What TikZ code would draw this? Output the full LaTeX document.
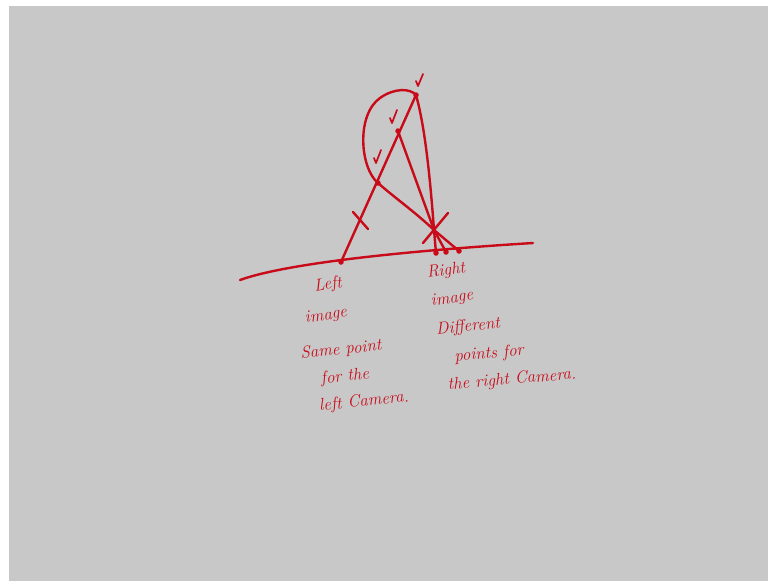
\documentclass[tikz,border=0pt]{standalone}
\definecolor{ink}{RGB}{200,10,25}
\definecolor{board}{RGB}{200,200,200}
\tikzset{
  pen/.style={draw=ink, line width=2.4pt, line cap=round, line join=round},
  thinpen/.style={draw=ink, line width=1.7pt, line cap=round, line join=round},
  dotpt/.style={circle, fill=ink, inner sep=0pt, minimum size=5.5pt},
  hand/.style={text=ink, font=\itshape\fontsize{17}{19}\selectfont, inner sep=0pt, align=left}
}
\begin{document}
\begin{tikzpicture}[x=1pt,y=-1pt]
\useasboundingbox (0,0) rectangle (768,581);
\fill[white] (0,0) rectangle (768,581);
\fill[board] (9,6) rectangle (768,581);
% points
\coordinate (L) at (341,262);
\coordinate (P1) at (378,183);
\coordinate (P2) at (398,131);
\coordinate (P3) at (416,95);
\coordinate (C) at (434,230);
\coordinate (R1) at (436,253);
\coordinate (R2) at (446,252);
\coordinate (R3) at (459,251);
\coordinate (B0) at (240,280);
\coordinate (B1) at (533,243);
% baseline (image plane)
\draw[pen] (B0) .. controls (290,262) and (420,250) .. (B1);
% left ray
\draw[pen] (L) -- (P3);
% right rays
\draw[pen] (P3) .. controls (426,130) and (431,190) .. (C) -- (R1);
\draw[pen] (P2) -- (C) -- (R2);
\draw[pen] (P1) .. controls (395,198) and (415,212) .. (C) -- (R3);
% loop
\draw[pen] (P1) .. controls (360,168) and (356,115) .. (380,98) .. controls (394,88) and (410,88) .. (P3);
% camera marks
\coordinate (T1) at (353,212);
\coordinate (T2) at (368,229);
\draw[pen] (T1) -- (T2);
\coordinate (X1) at (423,243);
\coordinate (X2) at (448,213);
\draw[pen] (X1) -- (X2);
% dots
\foreach \p in {L,P1,P2,P3,R1,R2,R3} \node[dotpt] at (\p) {};
% check marks
\draw[thinpen] (374,158) -- (376,163) -- (381,150);
\draw[thinpen] (390,118) -- (392,123) -- (397,110);
\draw[thinpen] (416,81) -- (418,86) -- (423,74);
% texts
\node[hand, rotate=8] (lt) at (328,285) {Left};
\node[hand, rotate=8] (li) at (326,316) {image};
\node[hand, rotate=6] (s1) at (341,350) {Same point};
\node[hand, rotate=6] (s2) at (345,377) {for the};
\node[hand, rotate=6] (s3) at (364,402) {left Camera.};
\node[hand, rotate=8] (rt) at (446,271) {Right};
\node[hand, rotate=8] (ri) at (452,299) {image};
\node[hand, rotate=6] (d1) at (468,327) {Different};
\node[hand, rotate=5] (d2) at (489,354) {points for};
\node[hand, rotate=5] (d3) at (512,380) {the right Camera.};
\end{tikzpicture}
\end{document}
